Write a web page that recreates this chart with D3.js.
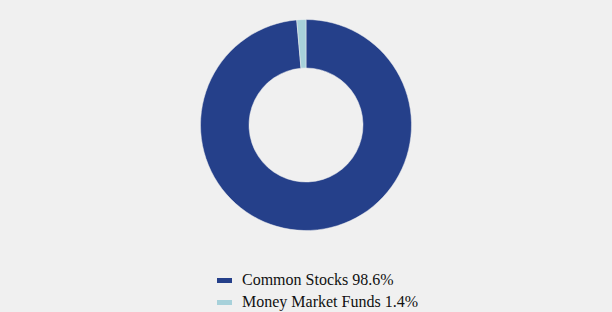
<!DOCTYPE html>
<html lang="en">
    <head>
        <meta charset="UTF-8">
        <title>holdings</title>
        <style>
            html, body {
                margin: 0;
                padding: 0;
                background-color: #f0f0f0;
            }
        </style>
        <script src="https://cdn.jsdelivr.net/npm/d3@7"></script>
    </head>
    <body>
        <svg></svg>
    <script>
        const categories = ["Common Stocks", "Money Market Funds"];
        const values = [98.6, 1.4];
        const colors = ["#25408a", "#a7d1da"];

        const width = 612;
        const height = 312;

        const svg = d3.select("svg")
            .attr("width", width)
            .attr("height", height)
            .style("display", "block");

        const data = categories.map((c, i) => ({name: c, value: values[i]}));

        const pie = d3.pie()
            .sort(null)
            .value(d => d.value);

        const arc = d3.arc()
            .innerRadius(57)
            .outerRadius(105.5);

        const color = d3.scaleOrdinal()
            .domain(categories)
            .range(colors);

        svg.append("g")
            .attr("transform", "translate(306, 125)")
            .selectAll("path")
            .data(pie(data))
            .join("path")
            .attr("d", arc)
            .attr("fill", d => color(d.data.name))
            .attr("stroke", "#f0f0f0")
            .attr("stroke-width", 0.5);

        const legend = svg.append("g")
            .attr("transform", "translate(217, 285)")
            .selectAll("g")
            .data(data)
            .join("g")
            .attr("transform", (d, i) => `translate(0, ${i * 22})`);

        legend.append("rect")
            .attr("x", 0)
            .attr("y", -7)
            .attr("width", 15)
            .attr("height", 5)
            .attr("fill", d => color(d.name));

        legend.append("text")
            .attr("x", 25)
            .attr("y", 0)
            .attr("font-family", "'Liberation Serif', 'DejaVu Serif', serif")
            .attr("font-size", 16)
            .attr("fill", "#111")
            .text(d => `${d.name} ${d.value}%`);
    </script>
    </body>
</html>
